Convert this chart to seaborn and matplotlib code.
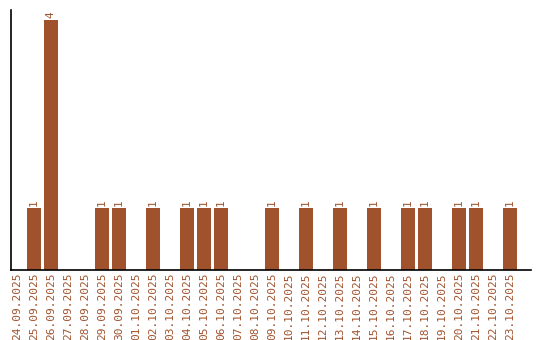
import matplotlib
matplotlib.use("Agg")
import matplotlib.pyplot as plt
import seaborn as sns
import pandas as pd

dates = ["24.09.2025", "25.09.2025", "26.09.2025", "27.09.2025", "28.09.2025",
         "29.09.2025", "30.09.2025", "01.10.2025", "02.10.2025", "03.10.2025",
         "04.10.2025", "05.10.2025", "06.10.2025", "07.10.2025", "08.10.2025",
         "09.10.2025", "10.10.2025", "11.10.2025", "12.10.2025", "13.10.2025",
         "14.10.2025", "15.10.2025", "16.10.2025", "17.10.2025", "18.10.2025",
         "19.10.2025", "20.10.2025", "21.10.2025", "22.10.2025", "23.10.2025"]
counts = [0, 1, 4, 0, 0, 1, 1, 0, 1, 0,
          1, 1, 1, 0, 0, 1, 0, 1, 0, 1,
          0, 1, 0, 1, 1, 0, 1, 1, 0, 1]

color = "#A0522D"
sns.set_style("white")
plt.rcParams['font.family'] = ['DejaVu Sans Mono', 'DejaVu Sans']

df = pd.DataFrame({"date": dates, "count": counts})

fig = plt.figure(figsize=(5.4, 3.4), dpi=100)
ax = fig.add_axes([11/540, 70/340, 520/540, 260/340])
sns.barplot(data=df, x="date", y="count", color=color, saturation=1,
            width=0.82, linewidth=0, edgecolor=color, ax=ax)

for i, v in enumerate(counts):
    if v > 0:
        ax.text(i, v + 0.03, str(v), rotation=90, ha="center", va="bottom",
                color=color, fontsize=8)

ax.set_xlim(-0.35, 30.25)
ax.set_ylim(0, 4.16)
ax.set_yticks([])
ax.set_xlabel("")
ax.set_ylabel("")
ax.tick_params(axis="x", length=0, pad=2, labelsize=8, labelcolor=color,
               rotation=90)
for s in ["top", "right"]:
    ax.spines[s].set_visible(False)
for s in ["left", "bottom"]:
    ax.spines[s].set_color("black")
    ax.spines[s].set_linewidth(1.2)

fig.savefig("out.png", dpi=100)
